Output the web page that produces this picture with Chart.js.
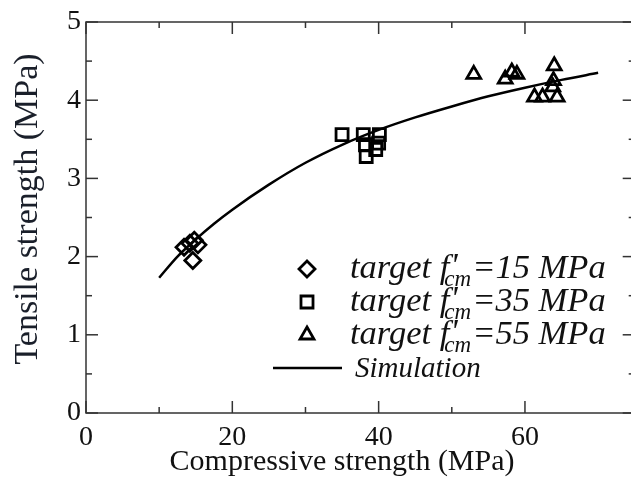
<!DOCTYPE html>
<html>
<head>
<meta charset="utf-8">
<script src="https://cdn.jsdelivr.net/npm/chart.js@4.4.1/dist/chart.umd.min.js"></script>
<style>
  html, body { margin: 0; padding: 0; background: #fff; overflow: hidden; width: 631px; height: 495px; }
  #wrap { width: 646px; height: 495px; }
</style>
</head>
<body>
<div id="wrap"><canvas id="c" width="646" height="495"></canvas></div>
<script>
// Measured splitting tensile strength vs compressive strength, three mixes
const fc15 = [13.4, 14.6, 14.8, 15.3, 14.2];
const ft15 = [2.12, 1.95, 2.21, 2.15, 2.17];

const fc35 = [35.0, 37.9, 40.1, 38.2, 40.0, 38.3, 39.6];
const ft35 = [3.56, 3.56, 3.56, 3.43, 3.45, 3.28, 3.37];

const fc55 = [53.0, 57.3, 58.2, 58.9, 64.0, 63.9, 63.8, 61.3, 62.4, 64.4];
const ft55 = [4.33, 4.27, 4.36, 4.33, 4.44, 4.25, 4.17, 4.04, 4.04, 4.04];

// Simulated strength relation
const simFc = [10, 12.5, 15, 17.5, 20, 25, 30, 35, 40, 45, 50, 55, 60, 65, 70];
const simFt = [1.73, 2.00, 2.22, 2.42, 2.60, 2.92, 3.20, 3.43, 3.62, 3.78, 3.92, 4.05, 4.16, 4.26, 4.35];

const xTickValues = [0, 20, 40, 60];
const xMinorValues = [10, 30, 50];
const yTickValues = [0, 1, 2, 3, 4, 5];
const yMinorValues = [0.5, 1.5, 2.5, 3.5, 4.5];

const legendItems = [
  { style: 'rectRot', radius: 8, pre: 'target f', sub: 'cm', post: '=15 MPa' },
  { style: 'rect', radius: 8.5, pre: 'target f', sub: 'cm', post: '=35 MPa' },
  { style: 'triangle', radius: 8, pre: 'target f', sub: 'cm', post: '=55 MPa' }
];
const xTitle = 'Compressive strength (MPa)';
const yTitle = 'Tensile strength (MPa)';

const pts = (xs, ys) => xs.map((v, i) => ({ x: v, y: ys[i] }));
const SERIF = '"Liberation Serif", "Times New Roman", serif';
const INK = '#111';

// Box frame with inward major/minor ticks on all four sides, plus axis titles
const framePlugin = {
  id: 'frame',
  afterDatasetsDraw(chart) {
    const { ctx, chartArea: a, scales: { x, y } } = chart;
    ctx.save();
    ctx.strokeStyle = '#333';
    ctx.lineWidth = 1.5;
    ctx.strokeRect(a.left, a.top, a.right - a.left, a.bottom - a.top);
    const seg = (x1, y1, x2, y2) => { ctx.beginPath(); ctx.moveTo(x1, y1); ctx.lineTo(x2, y2); ctx.stroke(); };
    const xt = (v, len) => { const p = x.getPixelForValue(v); seg(p, a.bottom, p, a.bottom - len); seg(p, a.top, p, a.top + len); };
    const yt = (v, len) => { const p = y.getPixelForValue(v); seg(a.left, p, a.left + len, p); seg(a.right, p, a.right - len, p); };
    xTickValues.forEach(v => xt(v, 12));
    xMinorValues.forEach(v => xt(v, 6));
    yTickValues.forEach(v => yt(v, 12));
    yMinorValues.forEach(v => yt(v, 6));

    ctx.fillStyle = INK;
    ctx.font = '30px ' + SERIF;
    ctx.textAlign = 'center';
    ctx.textBaseline = 'alphabetic';
    ctx.fillText(xTitle, x.getPixelForValue(35), 470);

    ctx.save();
    ctx.translate(37, 209);
    ctx.rotate(-Math.PI / 2);
    ctx.font = '34px ' + SERIF;
    ctx.fillStyle = '#1a1f2a';
    ctx.fillText(yTitle, 0, 0);
    ctx.restore();
    ctx.restore();
  }
};

// Legend with subscripted labels
const legendPlugin = {
  id: 'richLegend',
  afterDraw(chart) {
    const ctx = chart.ctx;
    ctx.save();
    ctx.fillStyle = INK;
    ctx.strokeStyle = '#000';
    ctx.textAlign = 'left';
    ctx.textBaseline = 'alphabetic';
    const rows = [278, 311, 344];
    legendItems.forEach((it, i) => {
      const base = rows[i];
      ctx.fillStyle = 'rgba(0,0,0,0)';
      ctx.lineWidth = 2.8;
      Chart.helpers.drawPoint(ctx, { pointStyle: it.style, radius: it.radius, borderWidth: 2.8, rotation: 0 }, 307, base - 9);
      ctx.fillStyle = INK;
      let xp = 350;
      ctx.font = 'italic 34.5px ' + SERIF;
      ctx.fillText(it.pre, xp, base);
      xp += ctx.measureText(it.pre).width;
      ctx.fillText('\'', xp + 1, base - 2);
      ctx.font = 'italic 23px ' + SERIF;
      const subX = xp - 5;
      ctx.fillText(it.sub, subX, base + 8);
      xp = subX + ctx.measureText(it.sub).width + 1;
      ctx.font = 'italic 34.5px ' + SERIF;
      ctx.fillText(it.post, xp, base);
    });
    ctx.strokeStyle = '#000';
    ctx.lineWidth = 2.5;
    ctx.beginPath();
    ctx.moveTo(273, 368);
    ctx.lineTo(342, 368);
    ctx.stroke();
    ctx.font = 'italic 29px ' + SERIF;
    ctx.fillText('Simulation', 355, 377);
    ctx.restore();
  }
};

const markerBase = { type: 'scatter', backgroundColor: 'rgba(0,0,0,0)', borderColor: '#000', pointBorderWidth: 2.8, pointHoverRadius: 8 };

new Chart(document.getElementById('c'), {
  type: 'scatter',
  data: {
    datasets: [
      { type: 'line', label: 'Simulation', data: pts(simFc, simFt), borderColor: '#000', borderWidth: 2.5,
        pointRadius: 0, fill: false, cubicInterpolationMode: 'monotone' },
      { ...markerBase, label: 'target 15', data: pts(fc15, ft15), pointStyle: 'rectRot', pointRadius: 8 },
      { ...markerBase, label: 'target 35', data: pts(fc35, ft35), pointStyle: 'rect', pointRadius: 8.5 },
      { ...markerBase, label: 'target 55', data: pts(fc55, ft55), pointStyle: 'triangle', pointRadius: 8 }
    ]
  },
  options: {
    responsive: false,
    animation: false,
    devicePixelRatio: 1,
    layout: { padding: { top: 22, right: 6, left: 0, bottom: 0 } },
    plugins: { legend: { display: false }, tooltip: { enabled: false } },
    scales: {
      x: {
        type: 'linear', min: 0, max: 75,
        grid: { display: false, drawTicks: false }, border: { display: false },
        afterBuildTicks: s => { s.ticks = xTickValues.map(v => ({ value: v })); },
        afterFit: s => { s.height = 82; },
        ticks: { color: INK, padding: 8, maxRotation: 0, font: { family: SERIF, size: 28 } }
      },
      y: {
        type: 'linear', min: 0, max: 5,
        grid: { display: false, drawTicks: false }, border: { display: false },
        afterBuildTicks: s => { s.ticks = yTickValues.map(v => ({ value: v })); },
        afterFit: s => { s.width = 86; },
        ticks: { color: INK, padding: 5, font: { family: SERIF, size: 28 } }
      }
    }
  },
  plugins: [framePlugin, legendPlugin]
});
</script>
</body>
</html>
